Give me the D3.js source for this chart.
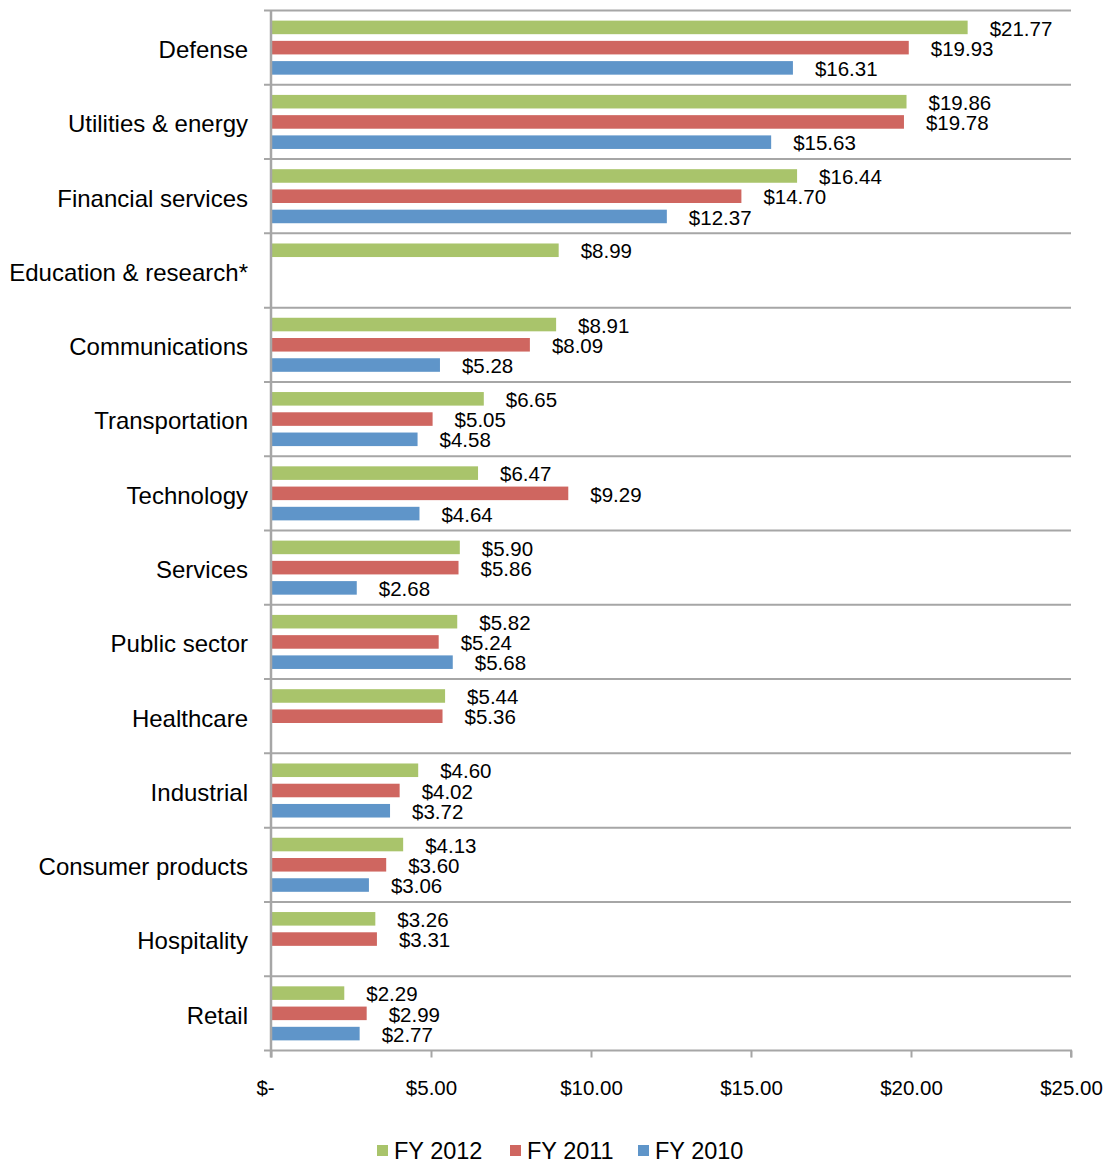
<!doctype html>
<html>
<head>
<meta charset="utf-8">
<script src="https://cdnjs.cloudflare.com/ajax/libs/d3/7.8.5/d3.min.js"></script>
<style>
  body { margin: 0; background: #fff; }
  svg { font-family: "Liberation Sans", Arial, sans-serif; }
</style>
</head>
<body>
<svg id="chart" width="1111" height="1163"></svg>
<script>
// data
var categories = ["Defense", "Utilities & energy", "Financial services", "Education & research*",
  "Communications", "Transportation", "Technology", "Services", "Public sector",
  "Healthcare", "Industrial", "Consumer products", "Hospitality", "Retail"];
var seriesNames = ["FY 2012", "FY 2011", "FY 2010"];
var fy2012 = [21.77, 19.86, 16.44, 8.99, 8.91, 6.65, 6.47, 5.90, 5.82, 5.44, 4.60, 4.13, 3.26, 2.29];
var fy2011 = [19.93, 19.78, 14.70, null, 8.09, 5.05, 9.29, 5.86, 5.24, 5.36, 4.02, 3.60, 3.31, 2.99];
var fy2010 = [16.31, 15.63, 12.37, null, 5.28, 4.58, 4.64, 2.68, 5.68, null, 3.72, 3.06, null, 2.77];
var xTicks = [0, 5, 10, 15, 20, 25];
var colors = ["#a9c46b", "#cf6660", "#5f95c9"];

var seriesValues = [fy2012, fy2011, fy2010];

var svg = d3.select("#chart");
var plotLeft = 271, plotRight = 1071, plotTop = 10.5, plotBottom = 1050.5;

var x = d3.scaleLinear().domain([0, 25]).range([plotLeft, plotRight]);
var y = d3.scaleBand().domain(categories).range([plotTop, plotBottom]);
var ySub = d3.scaleBand().domain(seriesNames).range([0, y.bandwidth()])
  .paddingInner(0.33).paddingOuter(0.5);

var fmt = function(v) { return "$" + d3.format(".2f")(v); };

// horizontal gridlines at category boundaries
svg.append("g").selectAll("line").data(categories).enter().append("line")
  .attr("x1", plotLeft - 7).attr("x2", plotRight)
  .attr("y1", function(c) { return y(c); }).attr("y2", function(c) { return y(c); })
  .attr("stroke", "#a6a6a6").attr("stroke-width", 2);

// bars
var groups = svg.append("g").selectAll("g").data(categories).enter().append("g")
  .attr("transform", function(c) { return "translate(0," + y(c) + ")"; });

seriesNames.forEach(function(s, si) {
  groups.each(function(c, ci) {
    var v = seriesValues[si][ci];
    if (v == null) return;
    var g = d3.select(this);
    g.append("rect")
      .attr("x", x(0) + 1)
      .attr("y", ySub(s))
      .attr("width", x(v) - x(0) - 1)
      .attr("height", ySub.bandwidth())
      .attr("fill", colors[si]);
    g.append("text")
      .attr("x", x(v) + 22)
      .attr("y", ySub(s) + ySub.bandwidth() / 2 + 1)
      .attr("dy", "0.35em")
      .attr("font-size", "20.5px")
      .attr("fill", "#000")
      .text(fmt(v));
  });
});

// category labels
svg.append("g").selectAll("text").data(categories).enter().append("text")
  .attr("x", 248)
  .attr("y", function(c) { return y(c) + y.bandwidth() / 2 + 2; })
  .attr("dy", "0.35em")
  .attr("text-anchor", "end")
  .attr("font-size", "24px")
  .text(function(c) { return c; });

// x axis
var xAxis = d3.axisBottom(x).tickValues(xTicks).tickSize(7)
  .tickFormat(function(d) { return d === 0 ? "$-" : fmt(d); });
var ax = svg.append("g").attr("transform", "translate(0," + plotBottom + ")").call(xAxis);
ax.select(".domain").attr("stroke", "#a6a6a6").attr("stroke-width", 2)
  .attr("d", "M" + (plotLeft - 7) + ",0H" + plotRight + "V7");
ax.selectAll(".tick line").attr("stroke", "#a6a6a6").attr("stroke-width", 2);
ax.selectAll(".tick text")
  .attr("y", 30).attr("font-size", "20.5px").attr("fill", "#000")
  .attr("font-family", "Liberation Sans, Arial, sans-serif")
  .attr("dx", function(d) { return d === 0 ? -6 : 0; });

// y axis line
svg.append("line")
  .attr("x1", plotLeft).attr("x2", plotLeft)
  .attr("y1", plotTop).attr("y2", plotBottom + 7)
  .attr("stroke", "#a6a6a6").attr("stroke-width", 2.5);

// legend
var legendX = [377, 510, 638];
var legend = svg.append("g").selectAll("g").data(seriesNames).enter().append("g")
  .attr("transform", function(d, i) { return "translate(" + legendX[i] + ",1150)"; });
legend.append("rect").attr("x", 0).attr("y", -5).attr("width", 11).attr("height", 11)
  .attr("fill", function(d, i) { return colors[i]; });
legend.append("text").attr("x", 17).attr("y", 1).attr("dy", "0.35em")
  .attr("font-size", "23.5px").text(function(d) { return d; });
</script>
</body>
</html>
